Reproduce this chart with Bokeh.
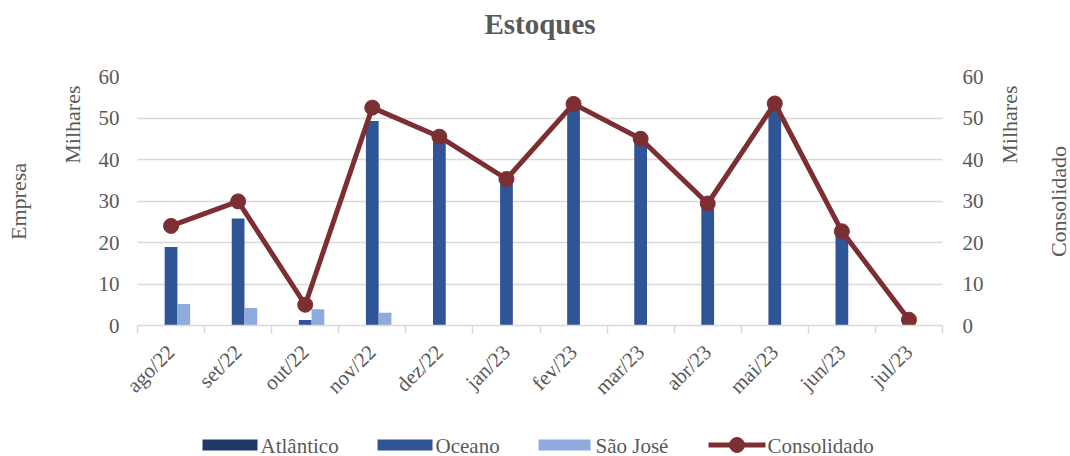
import math
from bokeh.plotting import figure
from bokeh.layouts import column, row
from bokeh.models import (Range1d, LinearAxis, FixedTicker, ColumnDataSource,
                          Label)
from bokeh.core.properties import value
from bokeh.transform import dodge
from bokeh.embed import file_html
from bokeh.resources import INLINE

# ---- data (milhares) ----
months = ["ago/22", "set/22", "out/22", "nov/22", "dez/22", "jan/23",
          "fev/23", "mar/23", "abr/23", "mai/23", "jun/23", "jul/23"]
atlantico = [0, 0, 0, 0, 0, 0, 0, 0, 0, 0, 0, 0]
oceano = [18.9, 25.8, 1.3, 49.3, 45.5, 35.3, 53.4, 45.0, 29.4, 53.5, 22.7, 1.4]
sao_jose = [5.2, 4.2, 3.9, 3.1, 0, 0, 0, 0, 0, 0, 0, 0]
consolidado = [24.0, 29.9, 5.0, 52.5, 45.5, 35.3, 53.4, 45.0, 29.4, 53.5, 22.7, 1.4]
y_ticks = [0, 10, 20, 30, 40, 50, 60]
series_names = ["Atlântico", "Oceano", "São  José", "Consolidado"]
title_text = "Estoques"
left_titles = ["Empresa", "Milhares"]
right_titles = ["Milhares", "Consolidado"]

FONT = "Liberation Serif"
GRAY = "#595959"
GRID = "#D9D9D9"
C_ATL = "#203864"
C_OCE = "#2F5597"
C_SJ = "#8FAADC"
C_CONS = "#7C2F33"

# layout geometry (px)
W_LEFT, W_MAIN, W_RIGHT = 95, 891, 84
H_MAIN, H_LEG = 427, 29
TOP, BOTTOM = 76, 102          # frame from y=76 to y=325
FRAME_H = H_MAIN - TOP - BOTTOM
B_LEFT, B_RIGHT = 40, 42

xs = [i + 0.5 for i in range(len(months))]
src = ColumnDataSource(dict(x=xs, atl=atlantico, oce=oceano, sj=sao_jose,
                            cons=consolidado))

p = figure(width=W_MAIN, height=H_MAIN, output_backend="svg", toolbar_location=None,
           x_range=Range1d(0, len(months)), y_range=Range1d(0, 60),
           min_border_left=B_LEFT, min_border_right=B_RIGHT, min_border_top=TOP,
           min_border_bottom=BOTTOM, outline_line_color=None, tools="")
p.extra_y_ranges = {"cons": Range1d(0, 60)}
xa = p.below[0]
la = p.left[0]

bw = 0.19
p.vbar(x=dodge("x", -bw, range=p.x_range), top="atl", width=bw,
       source=src, color=C_ATL, line_color=None)
p.vbar(x="x", top="oce", width=bw, source=src, color=C_OCE, line_color=None)
p.vbar(x=dodge("x", bw, range=p.x_range), top="sj", width=bw,
       source=src, color=C_SJ, line_color=None)
p.line(x="x", y="cons", source=src, y_range_name="cons",
       line_color=C_CONS, line_width=5)
p.scatter(x="x", y="cons", source=src, y_range_name="cons", size=15,
          fill_color=C_CONS, line_color=C_CONS)

# title (an empty second line lifts it away from the plot area)
p.title.text = title_text + "\n "
p.title.align = "center"
p.title.text_font = FONT
p.title.text_font_size = "29px"
p.title.text_font_style = "bold"
p.title.text_color = GRAY
p.title.text_line_height = 1.15
p.title.standoff = 0

# grid
p.xgrid.grid_line_color = None
p.ygrid.grid_line_color = GRID
p.ygrid.grid_line_width = 1.5
p.ygrid.ticker = FixedTicker(ticks=y_ticks)


def style_value_axis(ax, standoff):
    ax.ticker = FixedTicker(ticks=y_ticks)
    ax.axis_line_color = None
    ax.major_tick_line_color = None
    ax.minor_tick_line_color = None
    ax.major_tick_out = 0
    ax.major_tick_in = 0
    ax.minor_tick_out = 0
    ax.minor_tick_in = 0
    ax.major_label_standoff = standoff
    ax.major_label_text_font = FONT
    ax.major_label_text_font_size = "21px"
    ax.major_label_text_color = GRAY


style_value_axis(la, 18)
ra = LinearAxis(y_range_name="cons")
style_value_axis(ra, 20)
p.add_layout(ra, "right")

# bottom axis: labels at category centers, ticks between categories
xa.ticker = FixedTicker(ticks=xs, minor_ticks=list(range(len(months) + 1)))
xa.major_label_overrides = {x: m for x, m in zip(xs, months)}
xa.major_label_orientation = math.pi / 4
xa.major_tick_out = 0
xa.major_tick_in = 0
xa.major_tick_line_color = None
xa.minor_tick_out = 8
xa.minor_tick_in = 0
xa.minor_tick_line_color = GRID
xa.minor_tick_line_width = 1.5
xa.axis_line_color = GRID
xa.axis_line_width = 1.5
xa.major_label_standoff = 15
xa.major_label_text_font = FONT
xa.major_label_text_font_size = "21px"
xa.major_label_text_color = GRAY


# ---- side strips holding the vertical axis titles ----
def strip(width):
    s = figure(width=width, height=H_MAIN, output_backend="svg",
               toolbar_location=None, tools="",
               x_range=Range1d(0, width), y_range=Range1d(0, FRAME_H),
               min_border_left=0, min_border_right=0, min_border_top=TOP,
               min_border_bottom=BOTTOM, x_axis_location=None,
               y_axis_location=None, outline_line_color=None)
    s.xgrid.visible = False
    s.ygrid.visible = False
    return s


def vlabel(fig, text, x, y, align):
    fig.add_layout(Label(x=x, y=y, text=text, angle=math.pi / 2,
                         text_font=FONT, text_font_size="22px",
                         text_color=GRAY, text_align=align,
                         text_baseline="middle"))


ls = strip(W_LEFT)
vlabel(ls, left_titles[0], 18, 124, "center")
vlabel(ls, left_titles[1], 71.5, 240, "right")

rs = strip(W_RIGHT)
vlabel(rs, right_titles[0], 23, 240, "right")
vlabel(rs, right_titles[1], 72, 124, "center")

# ---- legend strip (key drawn in pixel units under the plot area) ----
LEG_W = W_MAIN - B_LEFT - B_RIGHT
lf = figure(width=W_LEFT + W_MAIN + W_RIGHT, height=H_LEG, output_backend="svg",
            toolbar_location=None, x_range=Range1d(0, LEG_W),
            y_range=Range1d(0, H_LEG), tools="", x_axis_location=None,
            y_axis_location=None, min_border_left=W_LEFT + B_LEFT,
            min_border_right=W_RIGHT + B_RIGHT, min_border_top=0,
            min_border_bottom=0, outline_line_color=None)
lf.xgrid.visible = False
lf.ygrid.visible = False

key_y = 11.5
swatch_x = [94.5, 269.5, 429]          # bar-series swatch centres
swatch_w = [55, 55, 52]
lf.rect(x=swatch_x, y=[key_y] * 3, width=swatch_w, height=[11] * 3,
        fill_color=[C_ATL, C_OCE, C_SJ], line_color=None)
lf.line(x=[573, 630], y=[key_y, key_y], line_color=C_CONS, line_width=5)
lf.scatter(x=[601.5], y=[key_y], size=15, fill_color=C_CONS, line_color=C_CONS)
lf.text(x=[125, 300, 460, 632], y=[key_y - 0.5] * 4, text=series_names,
        text_font=value(FONT), text_font_size=value("21px"), text_color=GRAY,
        text_align="left", text_baseline="middle")

layout = column(row(ls, p, rs, spacing=0), lf, spacing=0)
open("out.html", "w").write(file_html(layout, INLINE))
